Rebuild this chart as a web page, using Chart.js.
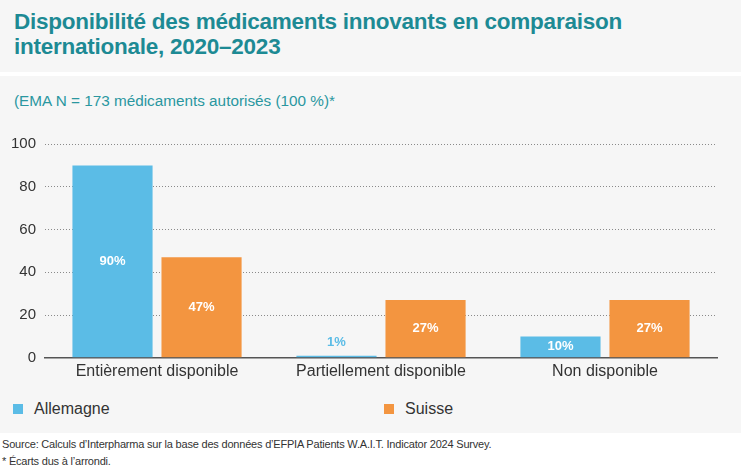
<!DOCTYPE html>
<html lang="fr">
<head>
<meta charset="UTF-8">
<title>Disponibilité des médicaments innovants</title>
<script src="https://cdn.jsdelivr.net/npm/chart.js"></script>
<style>
  body { margin: 0; background: #fff; font-family: "Liberation Sans", Arial, sans-serif; }
  #page { position: relative; width: 749px; height: 472px; overflow: hidden; }
  .panel { position: absolute; left: 0; width: 741px; background: #f6f6f6; }
  #titlePanel { top: 0; height: 72px; }
  #chartPanel { top: 76px; height: 357px; }
  h1 { position: absolute; left: 14px; top: 9px; margin: 0; font-size: 22.5px; line-height: 25px;
       color: #1d8a94; font-weight: bold; letter-spacing: -0.25px; }
  #subtitle { position: absolute; left: 14px; top: 92px; font-size: 15.3px; color: #2a97a0; }
  #chartBox { position: absolute; left: 0; top: 126px; width: 740px; height: 259px; }
  .legend { position: absolute; top: 400px; font-size: 16px; color: #333; }
  .legend span { display: inline-block; width: 10px; height: 10px; margin-right: 11px; vertical-align: 0px; }
  #source { position: absolute; left: 2px; top: 436px; font-size: 11px; line-height: 17px; color: #333; letter-spacing: -0.2px; }
</style>
</head>
<body>
<div id="page">
  <div class="panel" id="titlePanel"></div>
  <div class="panel" id="chartPanel"></div>
  <h1>Disponibilité des médicaments innovants en comparaison<br>internationale, 2020–2023</h1>
  <div id="subtitle">(EMA N = 173 médicaments autorisés (100 %)*</div>
  <div id="chartBox"><canvas id="chart"></canvas></div>
  <div class="legend" style="left:13px"><span style="background:#5bbce6"></span>Allemagne</div>
  <div class="legend" style="left:384px"><span style="background:#f39540"></span>Suisse</div>
  <div id="source">Source: Calculs d’Interpharma sur la base des données d’EFPIA Patients W.A.I.T. Indicator 2024 Survey.<br>* Écarts dus à l’arrondi.</div>
</div>
<script>
  // data
  const categories = ['Entièrement disponible', 'Partiellement disponible', 'Non disponible'];
  const allemagne = [90, 1, 10];
  const suisse = [47, 27, 27];
  const yTicks = [0, 20, 40, 60, 80, 100];

  const blue = '#5bbce6';
  const orange = '#f39540';

  // value labels: white inside the bar, or blue above it when the bar is too thin
  const valueLabels = {
    id: 'valueLabels',
    afterDatasetsDraw(chart) {
      const ctx = chart.ctx;
      ctx.save();
      ctx.font = 'bold 13px "Liberation Sans", Arial, sans-serif';
      ctx.textAlign = 'center';
      ctx.textBaseline = 'middle';
      chart.data.datasets.forEach((ds, i) => {
        chart.getDatasetMeta(i).data.forEach((bar, j) => {
          const v = ds.data[j];
          const h = bar.base - bar.y;
          if (h < 12) {
            ctx.fillStyle = ds.backgroundColor;
            ctx.fillText(v + '%', bar.x, bar.y - 13);
          } else {
            ctx.fillStyle = '#fff';
            ctx.fillText(v + '%', bar.x, (bar.y + bar.base) / 2);
          }
        });
      });
      ctx.restore();
    }
  };

  new Chart(document.getElementById('chart'), {
    type: 'bar',
    data: {
      labels: categories,
      datasets: [
        { label: 'Allemagne', data: allemagne, backgroundColor: blue, barPercentage: 0.9, categoryPercentage: 0.795 },
        { label: 'Suisse', data: suisse, backgroundColor: orange, barPercentage: 0.9, categoryPercentage: 0.795 }
      ]
    },
    options: {
      responsive: true,
      maintainAspectRatio: false,
      animation: false,
      layout: { padding: { left: 2, right: 23, top: 3, bottom: 0 } },
      plugins: { legend: { display: false }, tooltip: { enabled: false } },
      scales: {
        x: {
          grid: { display: false, drawTicks: false },
          border: { display: true, color: '#555', width: 1.5 },
          ticks: { color: '#333', font: { size: 16, family: '"Liberation Sans", Arial, sans-serif' }, padding: 4 }
        },
        y: {
          min: 0, max: 100,
          afterBuildTicks: axis => { axis.ticks = yTicks.map(v => ({ value: v })); },
          grid: { color: '#8a8a8a', lineWidth: 1, drawTicks: false },
          border: { display: false, dash: [1, 2] },
          ticks: { color: '#333', padding: 9, font: { size: 15, family: '"Liberation Sans", Arial, sans-serif' } }
        }
      }
    },
    plugins: [valueLabels]
  });
</script>
</body>
</html>
